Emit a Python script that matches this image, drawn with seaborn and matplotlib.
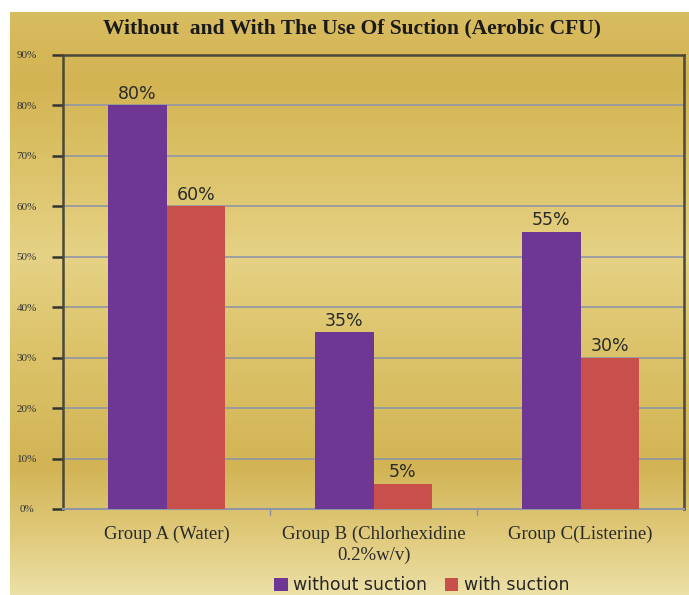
import numpy as np
import pandas as pd
import matplotlib
matplotlib.use("Agg")
import matplotlib.pyplot as plt
import seaborn as sns
from matplotlib.colors import LinearSegmentedColormap

categories = ["Group A (Water)", "Group B (Chlorhexidine\n0.2%w/v)", "Group C(Listerine)"]
without_suction = [80, 35, 55]
with_suction = [60, 5, 30]
series_names = ["without suction", "with suction"]
yticks = [0, 10, 20, 30, 40, 50, 60, 70, 80, 90]

df = pd.DataFrame({
    "group": categories * 2,
    "value": without_suction + with_suction,
    "series": [series_names[0]] * 3 + [series_names[1]] * 3,
})

sns.set_theme(style="white")
plt.rcParams['font.family'] = ['DejaVu Sans']

fig = plt.figure(figsize=(6.89, 5.95), dpi=100)
fig.patch.set_facecolor("white")

# gold gradient background
bg = fig.add_axes([10 / 689, 0, 679 / 689, 583 / 595], zorder=-10)
stops = [(0.0, "#d8bc60"), (0.12, "#d3b453"), (0.22, "#d9be62"), (0.42, "#e6d285"),
         (0.58, "#dcc36a"), (0.78, "#d2b455"), (0.9, "#e0ca7c"), (1.0, "#ece0a6")]
cmap = LinearSegmentedColormap.from_list("gold", stops)
grad = np.linspace(0, 1, 256).reshape(-1, 1)
bg.imshow(grad, aspect="auto", cmap=cmap, extent=[0, 1, 1, 0])
bg.set_axis_off()

ax = fig.add_axes([63 / 689, 1 - 509 / 595, 621 / 689, 454 / 595])
ax.patch.set_alpha(0)

palette = {"without suction": "#6e3794", "with suction": "#c84f4a"}
sns.barplot(data=df, x="group", y="value", hue="series", palette=palette,
            width=0.57, saturation=1, ax=ax, legend=True, zorder=3, linewidth=0)

for cont in ax.containers:
    ax.bar_label(cont, labels=[f"{int(v)}%" for v in cont.datavalues],
                 padding=2, fontsize=12.5, color="#2a2a2a", family="DejaVu Sans")

ax.set_ylim(0, 90)
ax.set_xlim(-0.5, 2.5)
ax.set_yticks(yticks)
ax.set_yticklabels([f"{v}%" for v in yticks], fontsize=8, family="Liberation Serif", color="#333333")
ax.set_xticks([0, 1, 2])
ax.set_xticklabels(categories, fontsize=13.5, family="Liberation Serif", color="#2a2a2a",
                   linespacing=1.3)
ax.tick_params(axis="x", length=0, pad=12)
ax.tick_params(axis="y", length=8, width=1.8, color="#333333", left=True, direction="out", pad=18)
for t in ax.get_yticklabels():
    t.set_horizontalalignment("center")
for xb in [0.5, 1.5]:
    ax.plot([xb, xb], [0, -1.2], color="#8a90a0", lw=1, clip_on=False)
ax.set_xlabel("")
ax.set_ylabel("")
ax.grid(axis="y", color="#8f96a6", lw=1.2, zorder=0)
ax.set_axisbelow(True)
for s in ["top", "right", "left"]:
    ax.spines[s].set_color("#4a4838")
    ax.spines[s].set_linewidth(1.8)
ax.spines["bottom"].set_color("#8f96a6")
ax.spines["bottom"].set_linewidth(1.5)

ax.legend_.remove()
handles, labels = ax.get_legend_handles_labels()
fig.legend(handles, labels, loc="center", bbox_to_anchor=(0.612, 0.016), ncol=2,
           frameon=False, fontsize=12.5, handlelength=0.8, handleheight=0.8,
           handletextpad=0.3, columnspacing=1.0, borderpad=0.1)

fig.text(352 / 689, 1 - 28 / 595, "Without  and With The Use Of Suction (Aerobic CFU)",
         ha="center", va="center", fontsize=15.5, fontweight="bold",
         family="Liberation Serif", color="#1a1a1a")

fig.savefig("out.png", dpi=100)
